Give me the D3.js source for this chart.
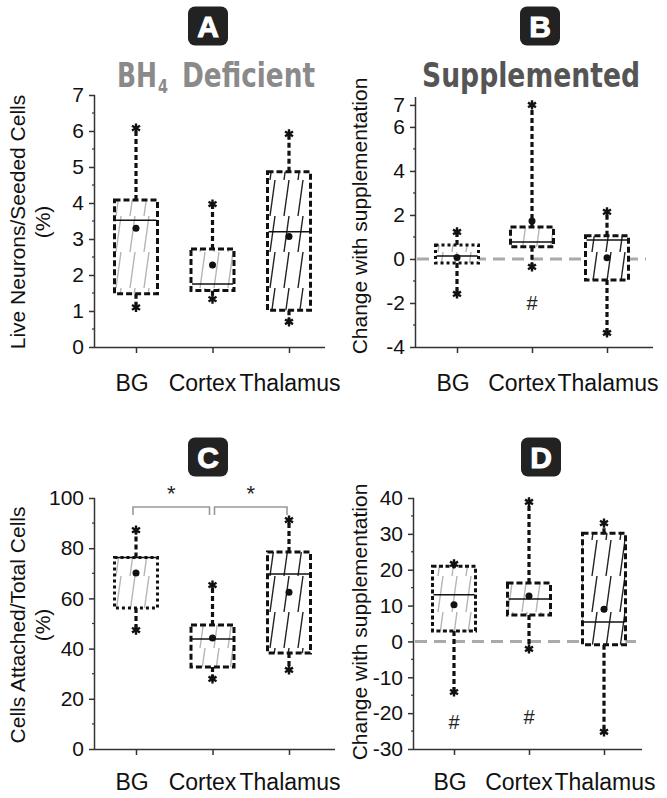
<!DOCTYPE html>
<html>
<head>
<meta charset="utf-8">
<script src="https://cdn.jsdelivr.net/npm/d3@7"></script>
<style>
  html, body { margin: 0; padding: 0; background: #fff; }
  svg { display: block; font-family: "Liberation Sans", Arial, sans-serif; }
</style>
</head>
<body>
<svg id="chart" width="667" height="798"></svg>
<script>
// ---------------- DATA ----------------
const categories = ["BG", "Cortex", "Thalamus"];

// Panel A: BH4 deficient, live neurons / seeded cells (%)
const aLow    = [1.10, 1.33, 0.70];
const aQ1     = [1.48, 1.57, 1.02];
const aMedian = [3.52, 1.75, 3.20];
const aQ3     = [4.08, 2.72, 4.87];
const aHigh   = [6.08, 3.97, 5.92];
const aMean   = [3.30, 2.28, 3.07];
const aTicks  = [0, 1, 2, 3, 4, 5, 6, 7];

// Panel B: change with supplementation
const bLow    = [-1.59, -0.36, -3.36];
const bQ1     = [-0.18, 0.55, -0.95];
const bMedian = [0.14, 0.77, 0.86];
const bQ3     = [0.64, 1.45, 1.05];
const bHigh   = [1.23, 7.00, 2.14];
const bMean   = [0.07, 1.73, 0.05];
const bTicks  = [-4, -2, 0, 2, 4, 6, 7];
const bHash   = [null, -2.0, null];

// Panel C: cells attached / total cells (%)
const cLow    = [47.4, 27.9, 31.5];
const cQ1     = [56.2, 32.7, 38.2];
const cMedian = [76.3, 43.8, 69.7];
const cQ3     = [76.3, 49.4, 78.5];
const cHigh   = [87.2, 65.3, 91.2];
const cMean   = [70.1, 44.2, 62.5];
const cTicks  = [0, 20, 40, 60, 80, 100];

// Panel D: change with supplementation
const dLow    = [-14.1, -2.1, -25.2];
const dQ1     = [2.9, 7.4, -0.9];
const dMedian = [13.0, 11.8, 5.4];
const dQ3     = [21.0, 16.3, 30.2];
const dHigh   = [21.6, 38.9, 33.0];
const dMean   = [10.2, 12.7, 9.0];
const dTicks  = [-30, -20, -10, 0, 10, 20, 30, 40];
const dHash   = [-22.5, -21.0, null];

// ---------------- DRAWING ----------------
const svg = d3.select("#chart");
const defs = svg.append("defs");
function hatch(id, color) {
  const p = defs.append("pattern").attr("id", id)
    .attr("patternUnits", "userSpaceOnUse").attr("width", 14).attr("height", 36);
  p.append("line").attr("x1", 4).attr("y1", 36).attr("x2", 9).attr("y2", 0)
    .attr("stroke", color).attr("stroke-width", 1.4);
}
hatch("hGray", "#b5b5b5");
hatch("hBlack", "#222");

const boxStyle = {
  A: ["6,3", "6,3", "6,3"],
  B: ["3,3", "6,3", "6,3"],
  C: ["3,3", "6,3", "6,3"],
  D: ["4,2.5", "6,3", "6,3"]
};
const hatchFill = ["url(#hGray)", "url(#hGray)", "url(#hBlack)"];
const labelDx = [-4, -10, 1];

function panel(o) {
  const g = svg.append("g");
  const x = d3.scalePoint().domain(categories).range(o.xRange);
  const y = d3.scaleLinear().domain(o.yDomain).range(o.yRange);
  const axisColor = "#333";

  // y axis
  const yAxis = d3.axisLeft(y).tickValues(o.ticks).tickSize(6).tickPadding(5)
    .tickFormat(d => d);
  const ya = g.append("g").attr("transform", `translate(${o.axisX},0)`).call(yAxis);
  ya.select(".domain").attr("stroke", axisColor).attr("stroke-width", 1.5)
    .attr("d", `M-0.5,${o.yRange[1]}V${o.yRange[0]}`);
  ya.selectAll(".tick line").attr("stroke", axisColor).attr("stroke-width", 1.5);
  ya.selectAll(".tick text").attr("font-size", 21).attr("fill", "#111")
    .attr("font-family", "Liberation Sans, Arial, sans-serif");
  // minor ticks
  g.append("g").selectAll("line").data(o.minor).join("line")
    .attr("x1", o.axisX - 3).attr("x2", o.axisX)
    .attr("y1", d => y(d)).attr("y2", d => y(d))
    .attr("stroke", axisColor).attr("stroke-width", 1.2);

  // x axis
  const xAxis = d3.axisBottom(x).tickSize(6).tickFormat("");
  const xa = g.append("g").attr("transform", `translate(0,${o.yRange[0]})`).call(xAxis);
  xa.select(".domain").attr("stroke", axisColor).attr("stroke-width", 1.5)
    .attr("d", `M${o.axisX},0.5H${o.xEnd}`);
  xa.selectAll(".tick line").attr("stroke", axisColor).attr("stroke-width", 1.5);
  g.append("g").selectAll("text").data(categories).join("text")
    .attr("x", (d, i) => x(d) + labelDx[i]).attr("y", o.catY)
    .attr("text-anchor", "middle").attr("font-size", 23).attr("fill", "#111")
    .text(d => d);

  // zero line
  if (o.zeroLine) {
    g.append("line").attr("x1", o.axisX + 1).attr("x2", o.zeroEnd)
      .attr("y1", y(0)).attr("y2", y(0))
      .attr("stroke", "#aaa").attr("stroke-width", 3).attr("stroke-dasharray", "12,7");
  }

  const bw = 43;
  const rows = categories.map((c, i) => ({
    c, i, lo: o.low[i], q1: o.q1[i], med: o.median[i], q3: o.q3[i], hi: o.high[i], mean: o.mean[i]
  }));
  const bx = g.append("g").selectAll("g").data(rows).join("g");
  // whiskers
  bx.append("line").attr("x1", d => x(d.c)).attr("x2", d => x(d.c))
    .attr("y1", d => y(d.q3)).attr("y2", d => y(d.hi))
    .attr("stroke", "#111").attr("stroke-width", 3.2).attr("stroke-dasharray", "5,3");
  bx.append("line").attr("x1", d => x(d.c)).attr("x2", d => x(d.c))
    .attr("y1", d => y(d.q1)).attr("y2", d => y(d.lo))
    .attr("stroke", "#111").attr("stroke-width", 3.2).attr("stroke-dasharray", "5,3");
  // box
  bx.append("rect").attr("x", d => x(d.c) - bw / 2).attr("width", bw)
    .attr("y", d => y(d.q3)).attr("height", d => y(d.q1) - y(d.q3))
    .attr("fill", "#fff");
  bx.append("rect").attr("x", d => x(d.c) - bw / 2).attr("width", bw)
    .attr("y", d => y(d.q3)).attr("height", d => y(d.q1) - y(d.q3))
    .attr("fill", d => hatchFill[d.i])
    .attr("stroke", "#111").attr("stroke-width", 3)
    .attr("stroke-dasharray", d => o.dash[d.i]);
  // median
  bx.append("line").attr("x1", d => x(d.c) - bw / 2 + 1).attr("x2", d => x(d.c) + bw / 2 - 1)
    .attr("y1", d => y(d.med)).attr("y2", d => y(d.med))
    .attr("stroke", "#111").attr("stroke-width", 1.5);
  // mean
  bx.append("circle").attr("cx", d => x(d.c)).attr("cy", d => y(d.mean)).attr("r", 3.5)
    .attr("fill", "#111");
  // extremes (asterisks)
  const star = d3.symbol().type(d3.symbolAsterisk).size(60);
  bx.append("path").attr("d", star)
    .attr("transform", d => `translate(${x(d.c)},${y(d.hi)})`)
    .attr("stroke", "#111").attr("stroke-width", 2.4).attr("fill", "none");
  bx.append("path").attr("d", star)
    .attr("transform", d => `translate(${x(d.c)},${y(d.lo)})`)
    .attr("stroke", "#111").attr("stroke-width", 2.4).attr("fill", "none");

  // hash marks
  if (o.hash) {
    g.append("g").selectAll("text").data(categories.filter((c, i) => o.hash[i] != null))
      .join("text")
      .attr("x", c => x(c)).attr("y", c => y(o.hash[categories.indexOf(c)]))
      .attr("dy", "0.35em").attr("text-anchor", "middle")
      .attr("font-size", 20).attr("fill", "#222").text("#");
  }

  // y label
  const yl = g.append("g").attr("font-size", 21).attr("fill", "#111");
  o.yLabel.forEach((t, k) => {
    yl.append("text")
      .attr("transform", `translate(${o.yLabelX[k]},${o.yLabelY}) rotate(-90)`)
      .attr("text-anchor", "middle").attr("dominant-baseline", "central")
      .text(t);
  });

  // panel letter
  const lg = g.append("g").attr("transform", `translate(${o.letterX},${o.letterY})`);
  lg.append("rect").attr("x", -20).attr("y", -19.5).attr("width", 40).attr("height", 39)
    .attr("rx", 7).attr("fill", "#222");
  lg.append("text").attr("text-anchor", "middle").attr("dy", "0.36em")
    .attr("font-size", 30).attr("font-weight", "bold").attr("fill", "#fff")
    .attr("stroke", "#fff").attr("stroke-width", 1)
    .text(o.letter);

  return { g, x, y };
}

const pA = panel({
  letter: "A", letterX: 208, letterY: 26,
  xRange: [136, 289], axisX: 95, xEnd: 325, yDomain: [0, 7], yRange: [347, 95],
  ticks: aTicks, minor: d3.range(0.5, 7, 1), catY: 391,
  low: aLow, q1: aQ1, median: aMedian, q3: aQ3, high: aHigh, mean: aMean,
  dash: boxStyle.A, yLabel: ["Live Neurons/Seeded Cells", "(%)"], yLabelX: [17, 42], yLabelY: 222
});
const pB = panel({
  letter: "B", letterX: 540, letterY: 26,
  xRange: [457, 607], axisX: 416, xEnd: 653, yDomain: [-4, 7.36], yRange: [347, 97],
  ticks: bTicks, minor: [-3, -1, 1, 3, 5], catY: 391, zeroLine: true, zeroEnd: 646,
  low: bLow, q1: bQ1, median: bMedian, q3: bQ3, high: bHigh, mean: bMean, hash: bHash,
  dash: boxStyle.B, yLabel: ["Change with supplementation"], yLabelX: [359], yLabelY: 216
});
const pC = panel({
  letter: "C", letterX: 208, letterY: 457,
  xRange: [136, 289], axisX: 95, xEnd: 335, yDomain: [0, 100], yRange: [749, 498],
  ticks: cTicks, minor: d3.range(10, 100, 20), catY: 790,
  low: cLow, q1: cQ1, median: cMedian, q3: cQ3, high: cHigh, mean: cMean,
  dash: boxStyle.C, yLabel: ["Cells Attached/Total Cells", "(%)"], yLabelX: [17, 42], yLabelY: 625
});
const pD = panel({
  letter: "D", letterX: 541, letterY: 457,
  xRange: [454, 604], axisX: 414, xEnd: 642, yDomain: [-30, 40], yRange: [749, 498],
  ticks: dTicks, minor: d3.range(-25, 40, 10), catY: 790, zeroLine: true, zeroEnd: 643,
  low: dLow, q1: dQ1, median: dMedian, q3: dQ3, high: dHigh, mean: dMean, hash: dHash,
  dash: boxStyle.D, yLabel: ["Change with supplementation"], yLabelX: [359], yLabelY: 622
});

// significance brackets in C
{
  const { g, x, y } = pC;
  const top = y(96.4), leg = y(93.2);
  const br = [[x("BG") - 3, x("Cortex") - 3], [x("Cortex") + 2, x("Thalamus") - 2]];
  br.forEach(([x1, x2]) => {
    g.append("path").attr("d", `M${x1},${leg}V${top}H${x2}V${leg}`)
      .attr("fill", "none").attr("stroke", "#999").attr("stroke-width", 1.6);
    g.append("text").attr("x", (x1 + x2) / 2).attr("y", top - 6)
      .attr("text-anchor", "middle").attr("font-size", 22).attr("fill", "#222").text("*");
  });
}

// titles
const titleFont = "'Liberation Sans Narrow', 'DejaVu Sans Condensed', 'Liberation Sans', sans-serif";
const tg = svg.append("g").attr("font-family", titleFont).attr("font-weight", "bold")
  .attr("fill", "#8a8a8a");
tg.append("text").attr("x", 117).attr("y", 87).attr("font-size", 33)
  .attr("textLength", 40).attr("lengthAdjust", "spacingAndGlyphs").text("BH");
tg.append("text").attr("x", 158).attr("y", 93).attr("font-size", 20)
  .attr("textLength", 10).attr("lengthAdjust", "spacingAndGlyphs").text("4");
tg.append("text").attr("x", 182).attr("y", 87).attr("font-size", 33)
  .attr("textLength", 133).attr("lengthAdjust", "spacingAndGlyphs").text("Deficient");
svg.append("text").attr("x", 422).attr("y", 87)
  .attr("font-family", titleFont).attr("font-weight", "bold").attr("font-size", 33)
  .attr("textLength", 218).attr("lengthAdjust", "spacingAndGlyphs")
  .attr("fill", "#555").text("Supplemented");
</script>
</body>
</html>
